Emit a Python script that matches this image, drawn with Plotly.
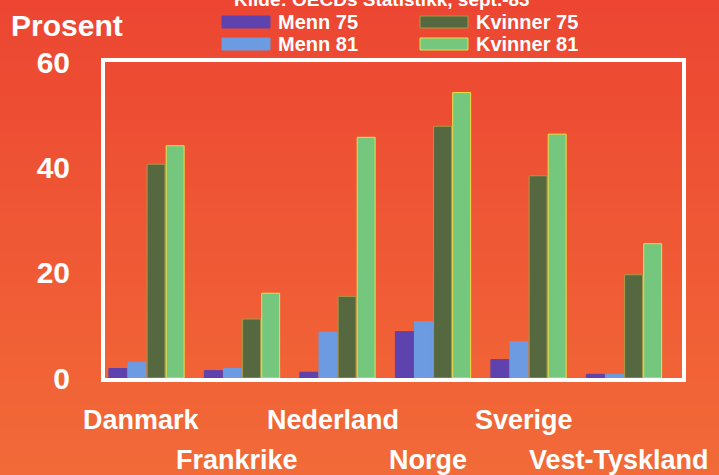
import plotly.graph_objects as go

categories = ["Danmark", "Frankrike", "Nederland", "Norge", "Sverige", "Vest-Tyskland"]
series_names = ["Menn 75", "Menn 81", "Kvinner 75", "Kvinner 81"]
menn_75 = [1.8, 1.4, 1.1, 8.8, 3.5, 0.7]
menn_81 = [3.0, 1.8, 8.7, 10.7, 6.9, 0.7]
kvinner_75 = [40.6, 11.2, 15.5, 47.8, 38.4, 19.6]
kvinner_81 = [44.1, 16.1, 45.7, 54.2, 46.3, 25.5]
y_ticks = [0, 20, 40, 60]
title_text = "Kilde: OECDs Statistikk, sept.-83"
y_title = "Prosent"

W, H = 719, 475
L, R, T, B = 105, 37, 62, 97
PW, PH = W - L - R, H - T - B

def px_x(px):
    return (px - L) / PW

def px_y(py):
    return 1 - (py - T) / PH

colors = ["#5E42AE", "#6C9BE2", "#56683F", "#74C77C"]
line_colors = ["#5E42AE", "#6C9BE2", "#A89A48", "#E6E04A"]
values = [menn_75, menn_81, kvinner_75, kvinner_81]

FONT = "Liberation Sans, Arial, sans-serif"
fig = go.Figure()
for name, vals, c, lc in zip(series_names, values, colors, line_colors):
    fig.add_trace(go.Bar(
        x=categories, y=vals, name=name, showlegend=False,
        marker=dict(color=c, line=dict(color=lc, width=1)),
    ))

shapes = []
# background gradient (decorative)
n_bands = 40
top_rgb = (236, 70, 50)
bot_rgb = (242, 106, 56)
for i in range(n_bands):
    f = i / (n_bands - 1)
    r = round(top_rgb[0] + (bot_rgb[0] - top_rgb[0]) * f)
    g = round(top_rgb[1] + (bot_rgb[1] - top_rgb[1]) * f)
    b = round(top_rgb[2] + (bot_rgb[2] - top_rgb[2]) * f)
    y0 = H * i / n_bands
    y1 = H * (i + 1) / n_bands + 1
    shapes.append(dict(type="rect", xref="paper", yref="paper", layer="below",
                       x0=px_x(0), x1=px_x(W), y0=px_y(y1), y1=px_y(y0),
                       fillcolor=f"rgb({r},{g},{b})", line=dict(width=0)))

annotations = []
# manual legend
for i, (name, c) in enumerate(zip(series_names, colors)):
    col, row = i // 2, i % 2
    x0 = 222 + col * 198
    yc = 22 + row * 22
    shapes.append(dict(type="rect", xref="paper", yref="paper",
                       x0=px_x(x0), x1=px_x(x0 + 48), y0=px_y(yc + 6), y1=px_y(yc - 6),
                       fillcolor=c, line=dict(color=line_colors[i], width=1)))
    annotations.append(dict(text=name, xref="paper", yref="paper", x=px_x(x0 + 54), y=px_y(yc),
                            xanchor="left", yanchor="middle", showarrow=False,
                            font=dict(family=FONT, size=20, color="white", weight="bold")))

annotations.append(dict(text=title_text, xref="paper", yref="paper", x=px_x(382), y=px_y(-1),
                        xanchor="center", yanchor="middle", showarrow=False,
                        font=dict(family=FONT, size=19, color="white", weight="bold")))
annotations.append(dict(text=y_title, xref="paper", yref="paper", x=px_x(9), y=px_y(25),
                        xanchor="left", yanchor="middle", showarrow=False,
                        font=dict(family=FONT, size=30, color="white", weight="bold")))
for i, cat in enumerate(categories):
    py = 420 if i % 2 == 0 else 460
    annotations.append(dict(text=cat, xref="x", yref="paper", x=cat, y=px_y(py), xshift=-5,
                            xanchor="center", yanchor="middle", showarrow=False,
                            font=dict(family=FONT, size=27, color="white", weight="bold")))

fig.update_layout(
    width=W, height=H,
    margin=dict(l=L, r=R, t=T, b=B, pad=0),
    paper_bgcolor="#EF5A38", plot_bgcolor="rgba(0,0,0,0)",
    barmode="group", bargap=0.2, bargroupgap=0.06,
    shapes=shapes, annotations=annotations,
    xaxis=dict(range=[-0.4346, 5.607], showticklabels=False, showgrid=False, zeroline=False,
               showline=True, mirror=True, linecolor="white", linewidth=4, fixedrange=True),
    yaxis=dict(range=[0, 60], tickvals=y_ticks, showgrid=False, zeroline=False,
               showline=True, mirror=True, linecolor="white", linewidth=4,
               ticklabelstandoff=25,
               tickfont=dict(family=FONT, size=30, color="white", weight="bold")),
)

fig.write_html(
    "out.html",
    config={"displayModeBar": False, "staticPlot": True},
    post_script="document.body.style.margin='0';document.body.style.overflow='hidden';"
                "document.body.style.background='#EF5A38';",
)
